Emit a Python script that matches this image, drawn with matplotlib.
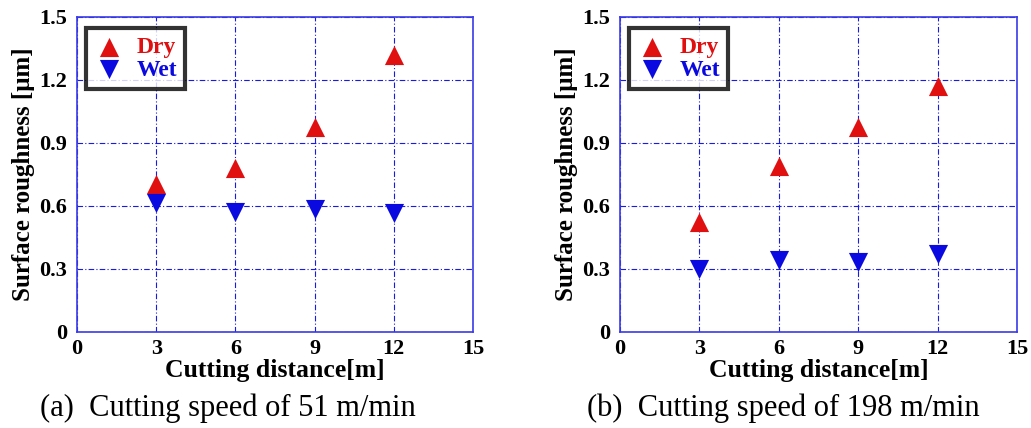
import matplotlib
matplotlib.use("Agg")
import matplotlib.pyplot as plt

distance = [3, 6, 9, 12]
dry_51 = [0.705, 0.78, 0.978, 1.32]
wet_51 = [0.614, 0.57, 0.585, 0.565]
dry_198 = [0.524, 0.79, 0.975, 1.17]
wet_198 = [0.30, 0.345, 0.335, 0.37]
xticks = [0, 3, 6, 9, 12, 15]
yticks = [0, 0.3, 0.6, 0.9, 1.2, 1.5]
ytick_labels = ["0", "0.3", "0.6", "0.9", "1.2", "1.5"]
captions = ["(a)  Cutting speed of 51 m/min", "(b)  Cutting speed of 198 m/min"]

plt.rcParams['font.family'] = ['Liberation Serif', 'DejaVu Serif']

fig = plt.figure(figsize=(10.31, 4.28), dpi=100)
axes_pos = [[0.0747, 0.2243, 0.384, 0.736], [0.6014, 0.2243, 0.385, 0.736]]
data = [(dry_51, wet_51), (dry_198, wet_198)]
cap_x = [0.221, 0.760]

for i, (pos, (dry, wet)) in enumerate(zip(axes_pos, data)):
    ax = fig.add_axes(pos)
    ax.set_xlim(0, 15)
    ax.set_ylim(0, 1.5)
    ax.set_xticks(xticks)
    ax.set_yticks(yticks)
    ax.set_yticklabels(ytick_labels)
    ax.grid(True, color='#1a1ae6', linestyle=(0, (5, 2, 1, 2)), linewidth=0.8)
    for s in ax.spines.values():
        s.set_color('#3a3ae8')
        s.set_linewidth(1.2)
    ax.tick_params(length=0, labelsize=16)
    ax.tick_params(axis='y', pad=7)
    ax.tick_params(axis='x', pad=5)
    for lab in ax.get_xticklabels() + ax.get_yticklabels():
        lab.set_fontweight('bold')
    ax.scatter(distance, dry, marker='^', s=190, color='#e01010', label='Dry', zorder=3, linewidths=0)
    ax.scatter(distance, wet, marker='v', s=190, color='#0a0ae0', label='Wet', zorder=3, linewidths=0)
    ax.set_xlabel('Cutting distance[m]', fontsize=18.5, fontweight='bold', labelpad=0)
    ax.set_ylabel('Surface roughness [\u03bcm]', fontsize=18, fontweight='bold', labelpad=3)
    leg = ax.legend(loc='upper left', bbox_to_anchor=(0.01, 0.98), prop={'weight': 'bold', 'size': 17},
                    frameon=True, fancybox=False, edgecolor='black', handletextpad=0.5,
                    borderpad=0.35, labelspacing=0.05, handlelength=1.3, borderaxespad=0.2)
    leg.get_frame().set_linewidth(3)
    leg.get_texts()[0].set_color('#e01010')
    leg.get_texts()[1].set_color('#0a0ae0')
    fig.text(cap_x[i], 0.047, captions[i], ha='center', va='center', fontsize=22)

fig.savefig('out.png', dpi=100)
